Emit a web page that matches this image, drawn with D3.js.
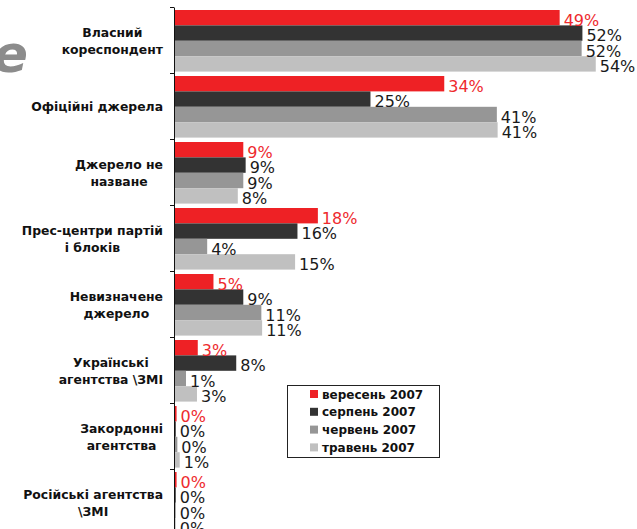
<!DOCTYPE html>
<html lang="uk">
<head>
<meta charset="utf-8">
<title>Джерела інформації</title>
<script src="https://cdn.jsdelivr.net/npm/d3@7"></script>
<style>
  body { margin: 0; background: #fff; }
  svg { display: block; }
  .cat { font-family: "DejaVu Sans", Verdana, sans-serif; font-weight: bold; font-size: 12.4px; fill: #111; }
  .val { font-family: "DejaVu Sans", Verdana, sans-serif; font-size: 16px; }
  .leg { font-family: "DejaVu Sans", Verdana, sans-serif; font-weight: bold; font-size: 12px; fill: #111; }
</style>
</head>
<body>
<div id="chart"></div>
<script>
// categories (lines of each label)
var categories = [
  ["Власний", "кореспондент"],
  ["Офіційні джерела"],
  ["Джерело не", "назване"],
  ["Прес-центри партій", "і блоків"],
  ["Невизначене", "джерело"],
  ["Українські", "агентства \\ЗМІ"],
  ["Закордонні", "агентства"],
  ["Російські агентства", "\\ЗМІ"]
];

var series = ["вересень 2007", "серпень 2007", "червень 2007", "травень 2007"];

// values in %
var september = [49.0, 34.3, 8.7, 18.2, 4.9, 2.9, 0.2, 0.2];
var august    = [51.9, 24.9, 9.0, 15.6, 8.7, 7.8, 0.1, 0.1];
var june      = [51.8, 41.0, 8.7, 4.1, 11.0, 1.4, 0.3, 0.1];
var may       = [53.6, 41.1, 8.0, 15.3, 11.1, 2.8, 0.6, 0.1];

var colors = ["#ee2125", "#333333", "#969696", "#c0c0c0"];
var labelColors = ["#ee2a2e", "#1a1a1a", "#1a1a1a", "#1a1a1a"];

var width = 637, height = 529;
var values = [september, august, june, may];

var svg = d3.select("#chart").append("svg")
  .attr("width", width)
  .attr("height", height);

// leftover of the slide title behind the chart
svg.append("text")
  .attr("x", 28).attr("y", 72)
  .attr("text-anchor", "end")
  .style("font-family", "DejaVu Sans, sans-serif")
  .style("font-style", "italic")
  .style("font-weight", "bold")
  .style("font-size", "52px")
  .style("fill", "#8c8c8c")
  .text("e");

var catIdx = d3.range(categories.length);

var y0 = d3.scaleBand()
  .domain(catIdx)
  .range([7, 7 + 66 * categories.length]);

var y1 = d3.scaleBand()
  .domain(d3.range(series.length))
  .range([3, 64.6]);

var x = d3.scaleLinear()
  .domain([0, 60])
  .range([175, 175 + 471]);

var fmt = function (v) { return d3.format(".0f")(v) + "%"; };

// bars
var groups = svg.append("g").selectAll("g")
  .data(catIdx)
  .join("g")
  .attr("transform", function (i) { return "translate(0," + y0(i) + ")"; });

groups.selectAll("rect")
  .data(function (i) { return values.map(function (s, k) { return { k: k, v: s[i] }; }); })
  .join("rect")
  .attr("x", x(0))
  .attr("y", function (d) { return y1(d.k); })
  .attr("width", function (d) { return x(d.v) - x(0); })
  .attr("height", y1.bandwidth())
  .attr("fill", function (d) { return colors[d.k]; });

groups.selectAll("text.val")
  .data(function (i) { return values.map(function (s, k) { return { k: k, v: s[i] }; }); })
  .join("text")
  .attr("class", "val")
  .attr("x", function (d) { return x(d.v) + 4; })
  .attr("y", function (d) { return y1(d.k) + y1.bandwidth() / 2 + 8; })
  .attr("fill", function (d) { return labelColors[d.k]; })
  .text(function (d) { return fmt(d.v); });

// axis with ticks between categories
var yIdx = d3.scaleLinear().domain([0, categories.length]).range(y0.range());
svg.append("g")
  .attr("transform", "translate(174,0)")
  .call(d3.axisLeft(yIdx).ticks(categories.length).tickSize(4).tickSizeOuter(0).tickFormat(""))
  .call(function (g) { g.selectAll("line, path").attr("stroke", "#111"); });

// category labels: lines centred on each other, block right-aligned
var labelRight = 163;
catIdx.forEach(function (i) {
  var lines = categories[i];
  var cy = y0(i) + y0.bandwidth() / 2;
  var t = svg.append("text").attr("class", "cat").attr("text-anchor", "middle");
  var spans = lines.map(function (l, j) {
    return t.append("tspan")
      .attr("y", cy + 5 - (lines.length - 1) * 8.5 + j * 17)
      .text(l);
  });
  var w = d3.max(spans, function (s) { return s.node().getComputedTextLength(); });
  spans.forEach(function (s) { s.attr("x", labelRight - w / 2); });
});

// legend
var legend = svg.append("g").attr("transform", "translate(287,385)");
legend.append("rect")
  .attr("x", 0.5).attr("y", 0.5)
  .attr("width", 152).attr("height", 72)
  .attr("fill", "#fff")
  .attr("stroke", "#222");

var item = legend.selectAll("g.item")
  .data(series)
  .join("g")
  .attr("transform", function (d, k) { return "translate(23," + (5 + k * 17.8) + ")"; });

item.append("rect")
  .attr("width", 8).attr("height", 8)
  .attr("fill", function (d, k) { return colors[k]; });

item.append("text")
  .attr("class", "leg")
  .attr("x", 12).attr("y", 8.5)
  .text(function (d) { return d; });
</script>
</body>
</html>
